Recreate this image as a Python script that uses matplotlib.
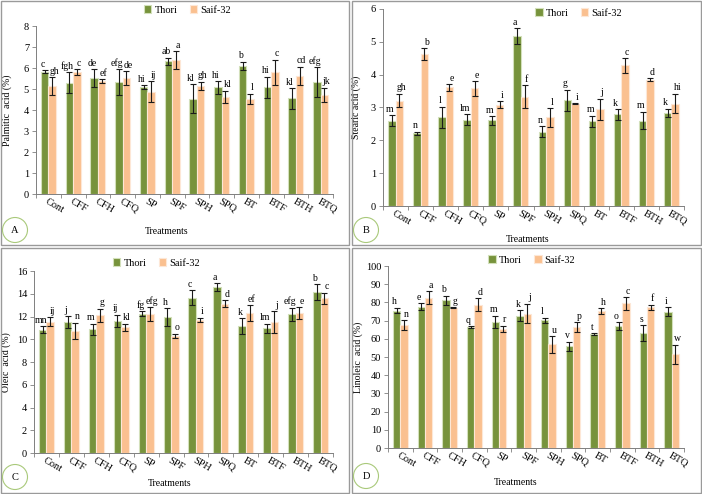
import numpy as np
import matplotlib
matplotlib.use('Agg')
import matplotlib.pyplot as plt
from matplotlib.patches import Rectangle, Ellipse
from matplotlib.transforms import ScaledTranslation

plt.rcParams['font.family'] = ['Liberation Serif', 'DejaVu Serif']

treatments = ['Cont', 'CFF', 'CFH', 'CFQ', 'SP', 'SPF', 'SPH', 'SPQ', 'BT', 'BTF', 'BTH', 'BTQ']

# A - palmitic acid
palm_thori = [5.82, 5.30, 5.52, 5.34, 5.08, 6.31, 4.54, 5.08, 6.10, 5.08, 4.55, 5.34]
palm_thori_err = [0.08, 0.51, 0.41, 0.61, 0.10, 0.18, 0.70, 0.30, 0.20, 0.50, 0.50, 0.70]
palm_saif = [5.14, 5.80, 5.38, 5.52, 4.87, 6.37, 5.14, 4.62, 4.52, 5.80, 5.63, 4.73]
palm_saif_err = [0.41, 0.15, 0.10, 0.34, 0.51, 0.42, 0.20, 0.30, 0.25, 0.60, 0.43, 0.33]
palm_thori_let = ['c', 'fgh', 'de', 'efg', 'hi', 'ab', 'kl', 'hi', 'b', 'hi', 'kl', 'efg']
palm_saif_let = ['gh', 'c', 'ef', 'de', 'ij', 'a', 'gh', 'kl', 'l', 'c', 'cd', 'jk']

# B - stearic acid
stea_thori = [2.60, 2.21, 2.70, 2.63, 2.61, 5.18, 2.26, 3.22, 2.58, 2.79, 2.60, 2.84]
stea_thori_err = [0.17, 0.05, 0.32, 0.17, 0.13, 0.24, 0.17, 0.32, 0.17, 0.16, 0.27, 0.12]
stea_saif = [3.21, 4.63, 3.61, 3.58, 3.09, 3.33, 2.70, 3.12, 2.95, 4.28, 3.85, 3.12]
stea_saif_err = [0.21, 0.17, 0.10, 0.22, 0.10, 0.35, 0.28, 0.02, 0.32, 0.22, 0.04, 0.30]
stea_thori_let = ['m', 'n', 'l', 'lm', 'm', 'a', 'n', 'g', 'm', 'k', 'm', 'k']
stea_saif_let = ['gh', 'b', 'e', 'e', 'i', 'f', 'l', 'i', 'j', 'c', 'd', 'hi']

# C - oleic acid
olei_thori = [10.85, 11.53, 10.88, 11.62, 12.24, 11.94, 13.65, 14.56, 11.18, 10.97, 12.18, 14.12]
olei_thori_err = [0.30, 0.50, 0.50, 0.53, 0.20, 0.80, 0.68, 0.35, 0.68, 0.40, 0.60, 0.70]
olei_saif = [11.56, 10.74, 12.09, 11.06, 12.20, 10.29, 11.70, 13.12, 12.30, 11.53, 12.32, 13.59]
olei_saif_err = [0.40, 0.70, 0.60, 0.30, 0.60, 0.20, 0.20, 0.30, 0.72, 0.95, 0.50, 0.50]
olei_thori_let = ['mn', 'j', 'm', 'ij', 'fg', 'h', 'c', 'a', 'k', 'lm', 'efg', 'b']
olei_saif_let = ['ij', 'n', 'g', 'kl', 'efg', 'o', 'i', 'd', 'ef', 'j', 'e', 'c']

# D - linoleic acid
lino_thori = [75.5, 77.7, 81.2, 66.5, 69.3, 72.6, 70.2, 55.9, 62.7, 67.1, 63.1, 75.0]
lino_thori_err = [1.5, 2.0, 2.5, 0.3, 3.4, 3.0, 1.5, 2.5, 0.4, 2.0, 4.3, 2.5]
lino_saif = [67.6, 82.6, 77.1, 78.8, 65.4, 73.9, 56.9, 66.5, 75.3, 79.5, 77.3, 51.4]
lino_saif_err = [2.5, 3.5, 0.3, 3.6, 1.8, 5.4, 4.5, 2.5, 1.5, 3.5, 1.5, 5.4]
lino_thori_let = ['h', 'e', 'b', 'q', 'm', 'k', 'l', 'v', 't', 'o', 's', 'i']
lino_saif_let = ['n', 'a', 'g', 'd', 'r', 'j', 'u', 'p', 'h', 'c', 'f', 'w']

green = '#77933C'
orange = '#FAC090'
fs = 7.5

W, H = 702, 494
fig = plt.figure(figsize=(W / 100, H / 100), dpi=100)


def px_axes(l, t, r, b):
    return fig.add_axes([l / W, 1 - b / H, (r - l) / W, (b - t) / H])


panels = [
    dict(box=(1, 1, 349, 245), ax=(36, 26, 333, 194), ylim=8, step=1, ylabel='Palmitic  acid (%)',
         d=(palm_thori, palm_thori_err, palm_saif, palm_saif_err, palm_thori_let, palm_saif_let),
         ylx=-0.08, xl=(0.44, -0.226), leg=(0.51, 1.095), circ=(15, 230), tag='A'),
    dict(box=(352, 1, 701, 245), ax=(383, 9, 684, 206), ylim=6, step=1, ylabel='Stearic acid (%)',
         d=(stea_thori, stea_thori_err, stea_saif, stea_saif_err, stea_thori_let, stea_saif_let),
         ylx=-0.072, xl=(0.48, -0.168), leg=(0.65, 0.98), circ=(366, 230), tag='B'),
    dict(box=(1, 248, 349, 493), ax=(34, 271, 333, 453), ylim=16, step=2, ylabel='Oleic  acid (%)',
         d=(olei_thori, olei_thori_err, olei_saif, olei_saif_err, olei_thori_let, olei_saif_let),
         ylx=-0.076, xl=(0.455, -0.17), leg=(0.41, 1.044), circ=(15, 477), tag='C'),
    dict(box=(352, 248, 701, 493), ax=(388, 266, 684, 448), ylim=100, step=10, ylabel='Linoleic  acid (%)',
         d=(lino_thori, lino_thori_err, lino_saif, lino_saif_err, lino_thori_let, lino_saif_let),
         ylx=-0.086, xl=(0.43, -0.19), leg=(0.486, 1.033), circ=(366, 476), tag='D'),
]

x = np.arange(len(treatments))
w = 0.3

for p in panels:
    bl, bt, br, bb = p['box']
    fig.add_artist(Rectangle((bl / W, 1 - bb / H), (br - bl) / W, (bb - bt) / H,
                             transform=fig.transFigure, fill=False, edgecolor='#9a9a9a', lw=1))
    cx, cy = p['circ']
    fig.add_artist(Ellipse((cx / W, 1 - cy / H), 25 / W, 25 / H, transform=fig.transFigure,
                           fill=False, edgecolor='#a9c97a', lw=0.8))
    fig.text(cx / W, 1 - cy / H, p['tag'], ha='center', va='center', fontsize=fs)

    ax = px_axes(*p['ax'])
    th, the, sa, sae, tl, sl = p['d']
    ax.bar(x - w / 2, th, w, color=green, edgecolor='#d3e0bb', lw=0.8, label='Thori', zorder=2)
    ax.bar(x + w / 2, sa, w, color=orange, edgecolor='#fde7d6', lw=0.8, label='Saif-32', zorder=2)
    ax.errorbar(x - w / 2, th, yerr=the, fmt='none', ecolor='#1a1a1a', elinewidth=0.8, capsize=2, capthick=0.8, zorder=3)
    ax.errorbar(x + w / 2, sa, yerr=sae, fmt='none', ecolor='#1a1a1a', elinewidth=0.8, capsize=2, capthick=0.8, zorder=3)
    for i in range(len(treatments)):
        ax.annotate(tl[i], (x[i] - w / 2, th[i] + the[i]), xytext=(-1.5, 1), textcoords='offset points',
                    ha='center', va='bottom', fontsize=7)
        ax.annotate(sl[i], (x[i] + w / 2, sa[i] + sae[i]), xytext=(1.5, 1), textcoords='offset points',
                    ha='center', va='bottom', fontsize=7)

    ax.set_xlim(-0.5, len(treatments) - 0.5)
    ax.set_ylim(0, p['ylim'])
    ax.set_yticks(np.arange(0, p['ylim'] + p['step'] / 2, p['step']))
    ax.set_xticks(x)
    ax.set_xticks(np.arange(-0.5, len(treatments), 1), minor=True)
    ax.set_xticklabels(treatments, rotation=-30, ha='left', va='top', rotation_mode='anchor', fontsize=fs)
    off = ScaledTranslation(-3 / 72, -2 / 72, fig.dpi_scale_trans)
    for lab in ax.get_xticklabels():
        lab.set_transform(lab.get_transform() + off)
    ax.tick_params(axis='x', which='major', length=0, pad=2)
    ax.tick_params(axis='x', which='minor', length=3, width=0.6, color='#7f7f7f', direction='out')
    ax.tick_params(axis='y', length=3, width=0.6, color='#7f7f7f', labelsize=fs, pad=2)
    for s in ['top', 'right']:
        ax.spines[s].set_visible(False)
    for s in ['left', 'bottom']:
        ax.spines[s].set_color('#7f7f7f')
        ax.spines[s].set_linewidth(0.7)
    ax.set_ylabel(p['ylabel'], fontsize=7)
    ax.yaxis.set_label_coords(p['ylx'], 0.5)
    ax.text(p['xl'][0], p['xl'][1], 'Treatments', transform=ax.transAxes, ha='center', va='center', fontsize=7)
    ax.legend(loc='center', bbox_to_anchor=p['leg'], ncol=2, frameon=False, fontsize=fs,
              handlelength=0.7, handleheight=0.7, handletextpad=0.3, columnspacing=1.2)

fig.savefig('out.png', dpi=100)
